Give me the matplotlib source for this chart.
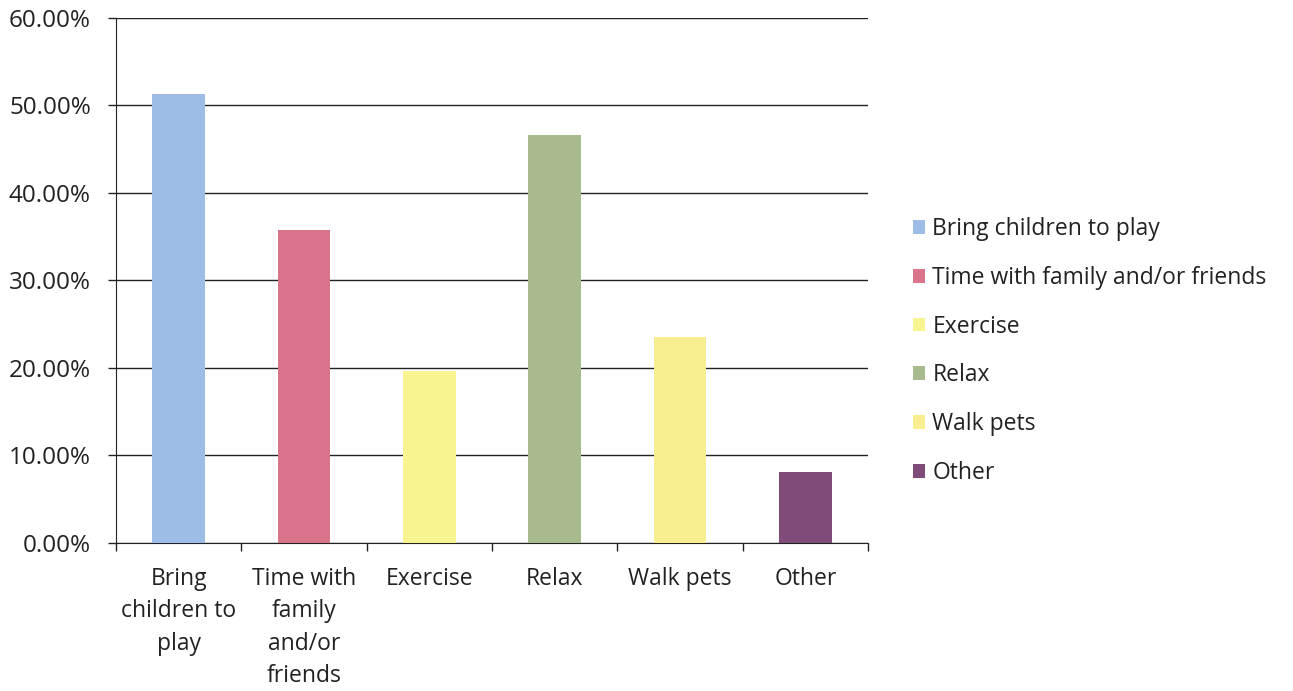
import matplotlib
matplotlib.use("Agg")
import matplotlib.pyplot as plt
from matplotlib.patches import Patch
from matplotlib.ticker import FuncFormatter, FixedLocator

plt.rcParams['font.family'] = ['Open Sans', 'DejaVu Sans']

categories = ["Bring children to play", "Time with family and/or friends", "Exercise",
              "Relax", "Walk pets", "Other"]
tick_labels = ["Bring\nchildren to\nplay", "Time with\nfamily\nand/or\nfriends", "Exercise",
               "Relax", "Walk pets", "Other"]
values = [51.3, 35.8, 19.7, 46.6, 23.5, 8.1]
colors = ["#9dbde6", "#d9748a", "#f8f591", "#a7bb8e", "#f8ee8f", "#7f4b78"]

fig = plt.figure(figsize=(12.93, 6.91), dpi=100)
ax = fig.add_axes([0.0897, 0.2142, 0.5816, 0.7598])

x = list(range(len(categories)))
for xi, v, c, lab in zip(x, values, colors, categories):
    ax.bar(xi, v, width=0.42, color=c, label=lab, zorder=3)

ax.set_xlim(-0.5, len(categories) - 0.5)
ax.set_ylim(0, 60)
ax.set_yticks([0, 10, 20, 30, 40, 50, 60])
ax.yaxis.set_major_formatter(FuncFormatter(lambda v, p: f"{v:.2f}%"))
ax.yaxis.grid(True, color="#222222", linewidth=1.0, zorder=0)
ax.set_axisbelow(True)

ax.set_xticks(x)
ax.set_xticklabels(tick_labels, fontsize=16.5, color="#222222", linespacing=1.47, va="top")
ax.xaxis.set_minor_locator(FixedLocator([i - 0.5 for i in range(len(categories) + 1)]))
ax.tick_params(axis="x", which="major", length=0, pad=17)
ax.tick_params(axis="x", which="minor", length=6, width=1, color="#222222", direction="out")
ax.tick_params(axis="y", length=6, width=1, color="#222222", labelsize=17.5, labelcolor="#222222", pad=12)

for s in ["top", "right"]:
    ax.spines[s].set_visible(False)
ax.spines["left"].set_color("#222222")
ax.spines["bottom"].set_color("#222222")

handles = [Patch(facecolor=c, label=l) for c, l in zip(colors, categories)]
fig.legend(handles=handles, loc="center left", bbox_to_anchor=(0.690, 0.492),
           frameon=False, fontsize=16.5, handlelength=0.55, handleheight=0.55,
           handletextpad=0.3, labelspacing=1.08, labelcolor="#222222")

fig.savefig("out.png", dpi=100)
